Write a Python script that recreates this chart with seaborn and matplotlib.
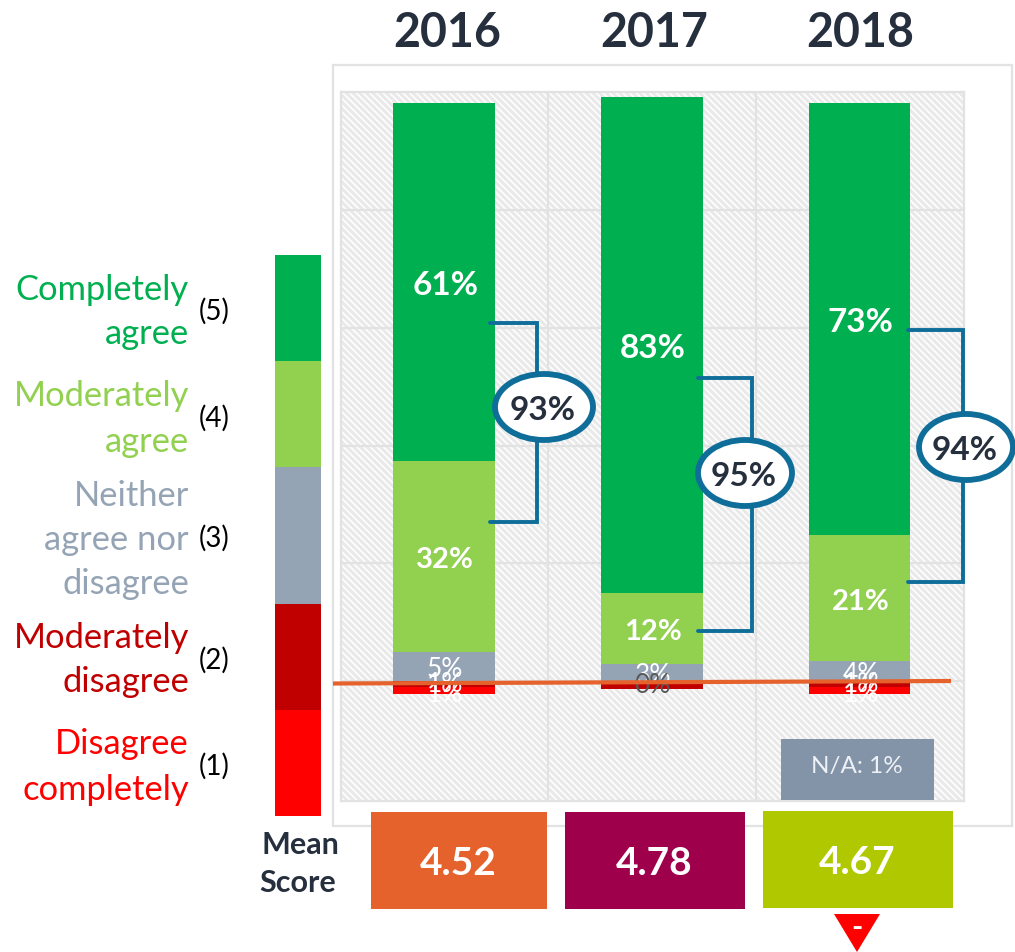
import matplotlib
matplotlib.use("Agg")
import matplotlib.pyplot as plt
from matplotlib.patches import Rectangle, Ellipse, Polygon
import numpy as np
import seaborn as sns

years = ["2016", "2017", "2018"]
completely_agree = [60.7, 84.2, 73.3]
moderately_agree = [32.4, 12.0, 21.4]
neither = [5.0, 3.0, 3.4]
moderately_disagree = [1.0, 1.3, 1.0]
disagree_completely = [1.2, 0.0, 1.2]
labels_ca = ["61%", "83%", "73%"]
labels_ma = ["32%", "12%", "21%"]
labels_ne = ["5%", "3%", "4%"]
labels_md = ["1%", "0%", "1%"]
labels_dc = ["1%", "", "1%"]
top_box = ["93%", "95%", "94%"]
mean_scores = ["4.52", "4.78", "4.67"]
legend_names = [["Completely", "agree"], ["Moderately", "agree"],
                ["Neither", "agree nor", "disagree"], ["Moderately", "disagree"],
                ["Disagree", "completely"]]
scale_numbers = ["(5)", "(4)", "(3)", "(2)", "(1)"]

C_CA, C_MA, C_NE, C_MD, C_DC = "#00B050", "#92D050", "#95A4B5", "#C00000", "#FF0000"
GRID = "#E2E2E2"
DARK = "#262F3D"
BLUE = "#0F6E99"
W, H = 1015, 952

sns.set_theme(style="white")
plt.rcParams["font.family"] = ["Lato", "DejaVu Sans"]
plt.rcParams["hatch.linewidth"] = 2.2

fig = plt.figure(figsize=(W / 100, H / 100), dpi=100, facecolor="white")

def px_axes(x0, y0, x1, y1):
    return [x0 / W, 1 - y1 / H, (x1 - x0) / W, (y1 - y0) / H]

back = fig.add_axes([0, 0, 1, 1], zorder=0)
back.set_xlim(0, W); back.set_ylim(H, 0); back.axis("off")
back.add_patch(Rectangle((333, 65), 679, 761, fc="white", ec=GRID, lw=1.6))

ax = fig.add_axes(px_axes(341, 92, 964, 801), zorder=1)
ax.patch.set_alpha(0)
ax.add_patch(Rectangle((0, 0), 1, 1, transform=ax.transAxes, fc="white", ec="#E9E9E9", lw=0,
                       hatch="\\\\\\\\\\", zorder=0.1))

ca, ma, ne = map(np.array, (completely_agree, moderately_agree, neither))
md, dc = map(np.array, (moderately_disagree, disagree_completely))
layers = [(ne + ma + ca, C_CA), (ne + ma, C_MA), (ne, C_NE), (-(md + dc), C_DC), (-md, C_MD)]
for vals, col in layers:
    sns.barplot(x=years, y=vals, color=col, width=0.49, saturation=1, ax=ax, zorder=2, linewidth=0)

ax.set_xlim(-0.497, 2.503)
ax.set_ylim(-20.3, 100)
ax.set_yticks(np.arange(0, 81, 20))
ax.set_xticks([0.5, 1.5])
ax.set_xticklabels([]); ax.set_yticklabels([])
ax.set_xlabel(""); ax.set_ylabel("")
ax.tick_params(length=0)
ax.set_axisbelow(True)
ax.grid(True, color=GRID, lw=1.6)
for s in ax.spines.values():
    s.set_color(GRID); s.set_linewidth(1.6); s.set_zorder(0.6)

def lab(i, y, s, size=23, weight="bold", color="white"):
    ax.text(i + 0.005, y, s, ha="center", va="center", fontsize=size, fontweight=weight, color=color, zorder=3)

for i in range(3):
    lab(i, ne[i] + ma[i] + ca[i] * 0.5 - 0.6, labels_ca[i], 24)
    lab(i, ne[i] + ma[i] * 0.5 - 0.6, labels_ma[i], 21)
    lab(i, ne[i] * 0.5 - 0.5, labels_ne[i], 19, "normal")
    lab(i, -md[i] * 0.5, labels_md[i], 19, "normal", "#595959" if labels_md[i] == "0%" else "white")
    if labels_dc[i]:
        lab(i, -md[i] - dc[i] * 0.5 - 0.6, labels_dc[i], 19, "normal")

ov = fig.add_axes([0, 0, 1, 1], zorder=5)
ov.set_xlim(0, W); ov.set_ylim(H, 0); ov.axis("off"); ov.patch.set_alpha(0)

for x, s in zip((447, 654, 860), years):
    ov.text(x, 33, s, ha="center", va="center", fontsize=33.5, fontweight="bold", color=DARK)

ov.plot([333, 951], [683.5, 681], color="#E5622D", lw=3, solid_capstyle="butt")

brackets = [(490, 537, 323, 522, 544, 407, 98), (698, 752, 378, 631, 745, 473, 94), (908, 963, 330, 582, 966, 447, 94)]
for (x0, x1, y0, y1, ex, ey, ew), s in zip(brackets, top_box):
    ov.plot([x0, x1, x1, x0], [y0, y0, y1, y1], color=BLUE, lw=2.8, solid_joinstyle="miter")
    ov.add_patch(Ellipse((ex, ey), ew, 66, fc="white", ec=BLUE, lw=4.2, zorder=3))
    ov.text(ex - 1, ey + 3, s, ha="center", va="center", fontsize=24, fontweight="bold", color=DARK, zorder=4)

edges = [255, 361, 467, 604, 710, 816]
for col, a, b in zip((C_CA, C_MA, C_NE, C_MD, C_DC), edges[:-1], edges[1:]):
    ov.add_patch(Rectangle((275, a), 46, b - a, fc=col, ec="none"))

line_ys = [[290.5, 334.5], [396.5, 441.5], [495.5, 539.5, 583.5], [638.5, 682.5], [744.5, 789.5]]
for names, ys, col in zip(legend_names, line_ys, (C_CA, C_MA, C_NE, C_MD, C_DC)):
    for n, y in zip(names, ys):
        ov.text(189, y, n, ha="right", va="center", fontsize=24.8, color=col)
for n, y in zip(scale_numbers, (311, 418, 538, 660, 766)):
    ov.text(214.5, y, n, ha="center", va="center", fontsize=20, color="black")

ov.text(300, 845, "Mean", ha="center", va="center", fontsize=22, fontweight="bold", color=DARK)
ov.text(298, 883, "Score", ha="center", va="center", fontsize=22, fontweight="bold", color=DARK)

boxes = [(371, 812, 176, 97, "#E5622D"), (565, 812, 180, 97, "#9E004B"), (763, 811, 190, 97, "#B0C800")]
for (x, y, w, h, col), s in zip(boxes, mean_scores):
    ov.add_patch(Rectangle((x, y), w, h, fc=col, ec="none"))
    ov.text(x + w / 2 - 1, y + h / 2 + 3, s, ha="center", va="center", fontsize=28, fontweight="bold", color="white")

ov.add_patch(Rectangle((781, 739), 153, 61, fc="#8393A8", ec="none"))
ov.text(857, 767, "N/A: 1%", ha="center", va="center", fontsize=17.5, color="#EEF1F5")

ov.add_patch(Polygon([(834, 914), (880, 914), (857, 952)], closed=True, fc="#FF0000", ec="none"))
ov.text(857, 928, "-", ha="center", va="center", fontsize=22, fontweight="bold", color="white")

fig.savefig("out.png", dpi=100)
